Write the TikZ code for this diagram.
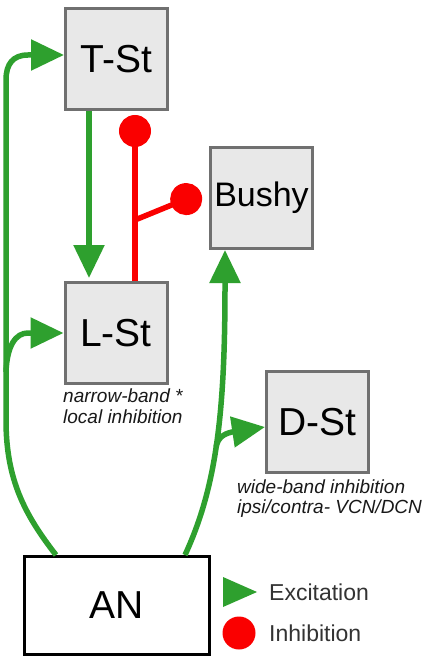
\documentclass[tikz,border=0pt]{standalone}
\usepackage{fontspec}
\setmainfont{Liberation Sans}
\usetikzlibrary{arrows.meta}
\definecolor{exgreen}{RGB}{46,160,46}
\definecolor{inred}{RGB}{250,0,0}
\definecolor{boxfill}{RGB}{232,232,232}
\definecolor{boxline}{RGB}{112,112,112}
\definecolor{legtext}{RGB}{51,51,51}
\definecolor{labeltext}{RGB}{25,25,25}
\begin{document}
\begin{tikzpicture}[x=1pt,y=-1pt,
  cell/.style={draw=boxline,fill=boxfill,line width=3pt,minimum width=102pt,minimum height=101pt,inner sep=0pt,font=\fontsize{39}{39}\selectfont},
  exc/.style={draw=exgreen,line width=5.5pt,-{Triangle[length=33pt,width=30pt]}},
  inh/.style={draw=inred,line width=5.5pt,-{Circle[length=32pt]}},
  lbl/.style={anchor=base west,inner sep=0pt,font=\fontsize{19}{19}\selectfont\itshape,text=labeltext},
  legend/.style={anchor=west,inner sep=0pt,font=\fontsize{23}{23}\selectfont,text=legtext}]
\useasboundingbox (0,0) rectangle (431,660);
\fill[white] (0,0) rectangle (431,660);

% boxes
\node[cell] (TSt) at (116.5,59) {T-St};
\node[cell] (LSt) at (116,333) {L-St};
\node[cell,font=\fontsize{34}{34}\selectfont] (Bushy) at (261.5,198) {Bushy};
\node[cell] (DSt) at (317.5,422) {D-St};
\node[cell,fill=white,draw=black,minimum width=185pt,minimum height=98pt] (AN) at (117,605.5) {AN};

% fork points
\coordinate (lfork) at (6,372);
\coordinate (rfork) at (216,447);
\coordinate (redfork) at (135,220);

% excitatory connections
\draw[exc] ([xshift=33pt]AN.north west) .. controls (25,515) and (6,480) .. (6,420) -- (6,80) .. controls (6,64) and (13,55) .. (28,55) -- ([yshift=4pt]TSt.west);
\draw[exc] (lfork) .. controls (7,345) and (16,333) .. (28,333) -- (LSt.west);
\draw[exc] ([xshift=-26pt]AN.north east) .. controls (215,490) and (225,420) .. (225,287) -- ([xshift=-36.5pt]Bushy.south);
\draw[exc] (rfork) .. controls (218,438) and (223,434) .. (232,432) -- ([yshift=-5pt]DSt.west);
\draw[exc,shorten >=3pt] ([xshift=-27.5pt]TSt.south) -- ([xshift=-27pt]LSt.north);

% inhibitory connections
\draw[inh,shorten >=4pt] ([xshift=19pt]LSt.north) -- ([xshift=18.5pt]TSt.south);
\draw[inh] (redfork) -- ([shift={(-8pt,5pt)}]Bushy.west);

% labels
\node[lbl] (lstA) at (63,402) {narrow-band *};
\node[lbl] (lstB) at (63,423) {local inhibition};
\node[lbl] (dstA) at (237,493) {wide-band inhibition};
\node[lbl] (dstB) at (237,513) {ipsi/contra- VCN/DCN};

% legend
\fill[exgreen] (223,577) -- (257,592) -- (223,607) -- cycle;
\fill[inred] (239,633) circle (16.5pt);
\node[legend] (lgE) at (269,592) {Excitation};
\node[legend] (lgI) at (269,633) {Inhibition};
\end{tikzpicture}
\end{document}
